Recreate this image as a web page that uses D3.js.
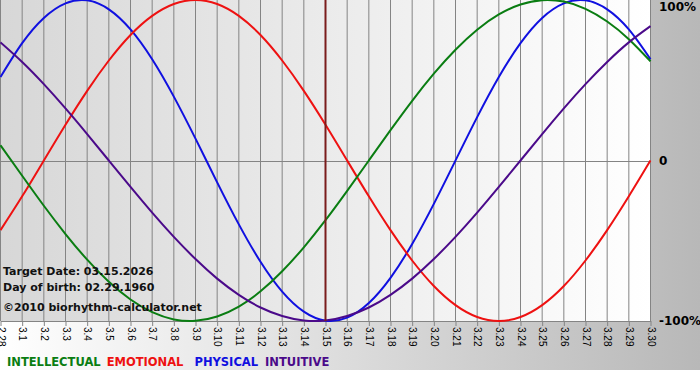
<!DOCTYPE html>
<html>
<head>
<meta charset="utf-8">
<script src="https://cdn.jsdelivr.net/npm/d3@7"></script>
<style>
  body { margin: 0; background: #fff; }
  svg { display: block; }
</style>
</head>
<body>
<script>

// days shown on the x axis (Feb 28 .. Mar 30)
var dayLabels = ["2.28", "3.1", "3.2", "3.3", "3.4", "3.5", "3.6", "3.7", "3.8", "3.9", "3.10",
    "3.11", "3.12", "3.13", "3.14", "3.15", "3.16", "3.17", "3.18", "3.19", "3.20",
    "3.21", "3.22", "3.23", "3.24", "3.25", "3.26", "3.27", "3.28", "3.29", "3.30"];

var targetDay = "3.15";

// cycle values, -1 .. 1, one per day
var intellectual = [0.095, -0.095, -0.282, -0.458, -0.618, -0.756, -0.866, -0.945, -0.990, -0.999, -0.972,
    -0.910, -0.815, -0.690, -0.541, -0.372, -0.189, 0.000, 0.189, 0.372, 0.541,
    0.690, 0.815, 0.910, 0.972, 0.999, 0.990, 0.945, 0.866, 0.756, 0.618];

var emotional = [-0.434, -0.223, 0.000, 0.223, 0.434, 0.623, 0.782, 0.901, 0.975, 1.000, 0.975,
    0.901, 0.782, 0.623, 0.434, 0.223, 0.000, -0.223, -0.434, -0.623, -0.782,
    -0.901, -0.975, -1.000, -0.975, -0.901, -0.782, -0.623, -0.434, -0.223, 0.000];

var physical = [0.520, 0.731, 0.888, 0.979, 0.998, 0.942, 0.817, 0.631, 0.398, 0.136, -0.136,
    -0.398, -0.631, -0.817, -0.942, -0.998, -0.979, -0.888, -0.731, -0.520, -0.270,
    0.000, 0.270, 0.520, 0.731, 0.888, 0.979, 0.998, 0.942, 0.817, 0.631];

var intuitive = [0.736, 0.614, 0.476, 0.325, 0.165, 0.000, -0.165, -0.325, -0.476, -0.614, -0.736,
    -0.837, -0.916, -0.969, -0.997, -0.997, -0.969, -0.916, -0.837, -0.736, -0.614,
    -0.476, -0.325, -0.165, 0.000, 0.165, 0.325, 0.476, 0.614, 0.736, 0.837];

var seriesNames = ["INTELLECTUAL", "EMOTIONAL", "PHYSICAL", "INTUITIVE"];
var seriesColors = ["#0a7d12", "#ee1111", "#1010e0", "#4b0a8a"];
var seriesValues = [intellectual, emotional, physical, intuitive];
// order the lines are painted in
var drawOrder = [2, 1, 0, 3];

var yTickValues = [1, 0, -1];
var yTickLabels = ["100%", "0", "-100%"];

var infoLines = ["Target Date: 03.15.2026", "Day of birth: 02.29.1960"];
var credit = "\u00a92010 biorhythm-calculator.net";

// size of the drawing
var W = 700, H = 380;
var plotW = 650, plotH = 321;

var svg = d3.select("body").append("svg")
    .attr("width", W)
    .attr("height", H);

var defs = svg.append("defs");

var bgGrad = defs.append("linearGradient").attr("id", "bgGrad");
bgGrad.append("stop").attr("offset", "0%").attr("stop-color", "#ffffff");
bgGrad.append("stop").attr("offset", "100%").attr("stop-color", "#b8b8b8");

var plotGrad = defs.append("linearGradient").attr("id", "plotGrad");
plotGrad.append("stop").attr("offset", "0%").attr("stop-color", "#d7d7d7");
plotGrad.append("stop").attr("offset", "100%").attr("stop-color", "#ffffff");

// outer panel
svg.append("rect")
    .attr("width", W)
    .attr("height", 370)
    .attr("fill", "url(#bgGrad)");

// plot panel
svg.append("rect")
    .attr("width", plotW + 1)
    .attr("height", plotH)
    .attr("fill", "url(#plotGrad)");

// scales
var x = d3.scalePoint()
    .domain(dayLabels)
    .range([0.5, plotW + 0.5]);

var y = d3.scaleLinear()
    .domain([-1, 1])
    .range([plotH, 0]);

// vertical grid lines, one per day
svg.append("g")
    .selectAll("line")
    .data(dayLabels)
    .enter().append("line")
    .attr("x1", function (d) { return x(d); })
    .attr("x2", function (d) { return x(d); })
    .attr("y1", 0)
    .attr("y2", plotH)
    .attr("stroke", "#848484")
    .attr("stroke-width", 1);

// zero line
svg.append("line")
    .attr("x1", 0)
    .attr("x2", plotW + 1)
    .attr("y1", Math.round(y(0)) + 0.5)
    .attr("y2", Math.round(y(0)) + 0.5)
    .attr("stroke", "#848484");

// x axis
var xAxis = d3.axisBottom(x).tickSize(5).tickSizeOuter(0);

var gx = svg.append("g")
    .attr("transform", "translate(0," + plotH + ")")
    .call(xAxis);

gx.select(".domain").attr("stroke", "#848484");
gx.selectAll(".tick line").attr("stroke", "#848484");
gx.selectAll(".tick text")
    .attr("transform", "rotate(90)")
    .attr("x", 6)
    .attr("y", 0)
    .attr("dy", "0.35em")
    .style("text-anchor", "start")
    .style("font-family", "'Liberation Sans', Arial, sans-serif")
    .style("font-size", "10px")
    .attr("fill", "#000");

// right labels
svg.append("g")
    .selectAll("text")
    .data(yTickValues)
    .enter().append("text")
    .attr("x", 659)
    .attr("y", function (d) { return y(d); })
    .attr("dy", function (d, i) { return i == 0 ? "0.9em" : "0.35em"; })
    .style("font-family", "'DejaVu Sans', Verdana, sans-serif")
    .style("font-weight", "bold")
    .style("font-size", "12px")
    .text(function (d, i) { return yTickLabels[i]; });

// the curves
var line = d3.line()
    .x(function (d, i) { return x(dayLabels[i]); })
    .y(function (d) { return y(d); })
    .curve(d3.curveNatural);

svg.append("g")
    .selectAll("path")
    .data(drawOrder)
    .enter().append("path")
    .attr("d", function (k) { return line(seriesValues[k]); })
    .attr("fill", "none")
    .attr("stroke", function (k) { return seriesColors[k]; })
    .attr("stroke-width", 2);

// target day marker
svg.append("line")
    .attr("x1", x(targetDay))
    .attr("x2", x(targetDay))
    .attr("y1", 0)
    .attr("y2", plotH)
    .attr("stroke", "#7a1c1c")
    .attr("stroke-width", 2);

// info text, lower left
var info = svg.append("g")
    .style("font-family", "'DejaVu Sans', Verdana, sans-serif")
    .style("font-weight", "bold")
    .style("font-size", "11px")
    .attr("fill", "#111");

info.selectAll("text.info")
    .data(infoLines)
    .enter().append("text")
    .attr("class", "info")
    .attr("x", 3)
    .attr("y", function (d, i) { return 275 + i * 16; })
    .text(function (d) { return d; });

info.append("text")
    .attr("x", 3)
    .attr("y", 311)
    .text(credit);

// legend
var legend = svg.append("g")
    .style("font-family", "'DejaVu Sans', Verdana, sans-serif")
    .style("font-weight", "bold")
    .style("font-size", "11.5px");

var lx = 7;
var legendGaps = [6, 11, 7, 0];
seriesNames.forEach(function (name, i) {
    var t = legend.append("text")
        .attr("x", lx)
        .attr("y", 366)
        .attr("fill", seriesColors[i])
        .text(name);
    lx += t.node().getComputedTextLength() + legendGaps[i];
});

</script>
</body>
</html>
